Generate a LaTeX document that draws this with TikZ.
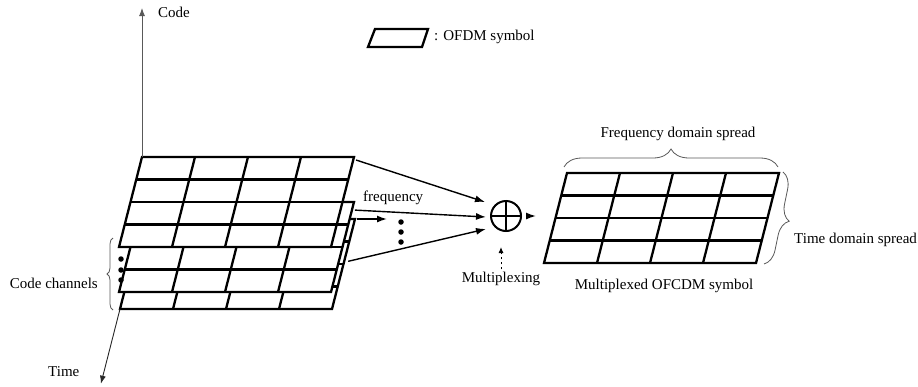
\documentclass[tikz,border=0pt]{standalone}
\usepackage{fontspec}
\setmainfont{Liberation Serif}
\usetikzlibrary{arrows.meta,decorations.pathreplacing,calc}

\tikzset{
  gridline/.style={line width=2.3pt, line join=miter},
  conn/.style={line width=1.4pt, -{Latex[length=10pt,width=7pt]}},
  axisline/.style={line width=0.9pt, draw=black!65, -{Latex[length=8pt,width=6pt]}},
  dasharrow/.style={line width=1pt, dash pattern=on 2.5pt off 2.5pt, -{Latex[length=6pt,width=5pt]}},
  lbl/.style={font=\fontsize{15}{18}\selectfont, inner sep=0pt},
  bracegray/.style={draw=black!65, line width=0.8pt, decorate, decoration={brace, amplitude=#1}},
  dotmark/.style={circle, fill=black, inner sep=0pt, minimum size=5.5pt},
}

% one OFDM symbol grid: 4 x 4 cells, top-left corner at (#1,#2), corners named #3-tl, #3-tr, #3-br, #3-bl
\newcommand{\symgrid}[3]{%
  \begin{scope}[shift={(#1,#2)}]
    \coordinate (#3-tl) at (0,0);
    \coordinate (#3-tr) at (212,0);
    \coordinate (#3-br) at (189,90);
    \coordinate (#3-bl) at (-23,90);
    \filldraw[gridline, fill=white] (#3-tl) -- (#3-tr) -- (#3-br) -- (#3-bl) -- cycle;
    \foreach \k in {1,2,3} {
      \draw[gridline] ($(#3-tl)!\k/4!(#3-bl)$) -- ($(#3-tr)!\k/4!(#3-br)$);
      \draw[gridline] ($(#3-tl)!\k/4!(#3-tr)$) -- ($(#3-bl)!\k/4!(#3-br)$);
    }
  \end{scope}}

\begin{document}
\begin{tikzpicture}[x=1pt,y=-1pt]
\useasboundingbox (0,0) rectangle (918,386);

% legend
\draw[gridline] (375,29) -- (428,29) -- (422,47) -- (368,47) -- cycle;
\node[lbl, anchor=base west] (legend) at (434,40) {: OFDM symbol};

% stacked code channels (back to front)
\symgrid{143}{219}{L3}
\symgrid{142}{202}{L2}
\symgrid{142}{157}{L1}

% axes
\coordinate (codetip) at (142,8);
\draw[axisline] (L1-tl) -- (codetip);
\node[lbl, anchor=base west] (codelbl) at (158,17) {Code};
\coordinate (timetip) at ($(L3-tl)!1.83!(L3-bl)$);
\draw[axisline, draw=black!85] (L3-bl) -- (timetip);
\node[lbl, anchor=base west] (timelbl) at (48,376) {Time};

% code channel dots and brace
\node[dotmark] (cd1) at (121,259) {};
\node[dotmark] (cd2) at (121,270) {};
\node[dotmark] (cd3) at (121,280) {};
\draw[bracegray=6pt] (113,310) -- (113,238);
\node[lbl, anchor=base east] (cclbl) at (98,288) {Code channels};

% multiplexer
\node[circle, draw, line width=2pt, minimum size=30pt, inner sep=0pt] (mux) at (506,216) {};
\draw[line width=2pt] (mux.north) -- (mux.south);
\draw[line width=2pt] (mux.west) -- (mux.east);

\coordinate (in1) at ($(mux)+(-21,-14)$);
\coordinate (in2) at ($(mux)+(-20,1)$);
\coordinate (in3) at ($(mux)+(-20,13)$);
\draw[conn] ($(L1-tr)+(2,3)$) -- (in1);
\draw[conn] ($(L2-tr)!0.09!(L2-br)+(3,0)$) -- (in2);
\draw[conn] ($(L3-tr)!0.47!(L3-br)+(4,0)$) -- (in3);

% further channels along frequency
\draw[conn] ($(L3-tr)+(2,0)$) -- ++(30,0);
\node[lbl, anchor=base west] (freqlbl) at (363,201) {frequency};
\node[dotmark] (fd1) at (401,222) {};
\node[dotmark] (fd2) at (401,232) {};
\node[dotmark] (fd3) at (401,242) {};

% multiplexing control
\node[lbl, anchor=base] (mplex) at (501,282) {Multiplexing};
\draw[dasharrow, shorten <=2pt, shorten >=15pt] (mplex.north) -- (mplex.north |- mux.south);

% multiplexed symbol
\symgrid{567}{173}{R}
\draw[conn, shorten <=9pt, shorten >=8pt] (mux.east) -- (mux.east -| R-bl);
\draw[bracegray=18pt] (564,167) -- (778,167);
\node[lbl, anchor=base] (fdlbl) at (678,137) {Frequency domain spread};
\draw[bracegray=16pt] (783,172) -- (764,264);
\node[lbl, anchor=base west] (tdlbl) at (794,243) {Time domain spread};
\node[lbl, anchor=base] (mslbl) at (664,289) {Multiplexed OFCDM symbol};
\end{tikzpicture}
\end{document}
